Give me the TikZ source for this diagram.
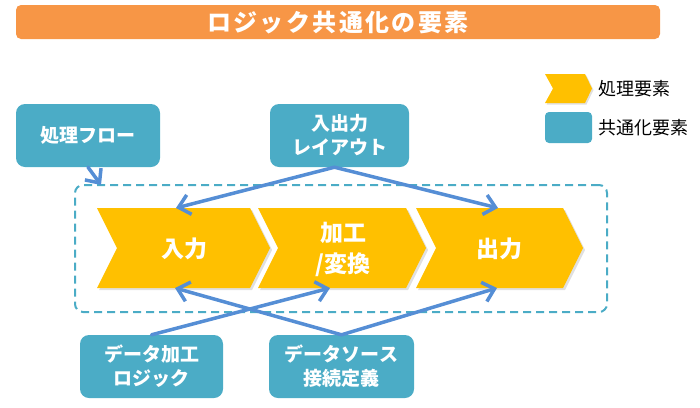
\documentclass[tikz,border=0pt]{standalone}
\usepackage{fontspec}
\setmainfont{Noto Sans CJK JP}
\newfontfamily\titlefont{Noto Sans CJK JP}[LetterSpace=10]
\usetikzlibrary{arrows.meta}
\definecolor{orangebar}{HTML}{F79646}
\definecolor{gold}{HTML}{FFC000}
\definecolor{tealbox}{HTML}{4BACC6}
\definecolor{arrowblue}{HTML}{558ED5}
\begin{document}
\begin{tikzpicture}[x=1pt,y=-1pt,
  cbox/.style={fill=tealbox, rounded corners=9pt, text=white,
    font=\fontsize{19}{24}\selectfont\bfseries, align=center, inner sep=0pt},
  conn/.style={draw=arrowblue, line width=3.5pt, line cap=round,
    -{Straight Barb[length=11pt,width=20pt,line width=3.5pt]}},
  chevshadow/.style={fill=black, opacity=0.12},
  chevfill/.style={fill=gold},
  chevtext/.style={text=white, font=\fontsize{23}{31}\selectfont\bfseries, align=center, inner sep=0pt},
  legtext/.style={text=black, font=\fontsize{18}{20}\selectfont, anchor=west, inner sep=0pt}
]
\useasboundingbox (0,0) rectangle (700,407);

% title
\node[fill=orangebar, rounded corners=5pt, minimum width=644pt, minimum height=34pt,
  text=white, font=\titlefont\fontsize{24}{26}\selectfont\bfseries, inner sep=0pt] (title) at (338,22) {ロジック共通化の要素};

% legend
\fill[chevshadow] (546.5,75.5) -- (586.5,75.5) -- (593.5,90) -- (586.5,104.5) -- (546.5,104.5) -- (554.5,90) -- cycle;
\fill[chevfill] (545,74) -- (585,74) -- (592,88.5) -- (585,103) -- (545,103) -- (553,88.5) -- cycle;
\node[legtext] (legA) at (598,88.5) {処理要素};
\node[fill=tealbox, rounded corners=4pt, minimum width=47pt, minimum height=31pt, inner sep=0pt] (legbox) at (568.5,127.5) {};
\node[legtext] (legB) at (598,127.5) {共通化要素};

% common element boxes
\node[cbox, minimum width=144pt, minimum height=63pt] (flow) at (88,135.5) {処理フロー};
\node[cbox, minimum width=139pt, minimum height=63pt] (iol) at (339.5,135.5) {入出力\\レイアウト};
\node[cbox, minimum width=143pt, minimum height=63pt] (dlogic) at (151.5,366.5) {データ加工\\ロジック};
\node[cbox, minimum width=145pt, minimum height=63pt] (dsrc) at (341.5,366.5) {データソース\\接続定義};

% dashed group
\node[draw=tealbox, line width=2pt, dash pattern=on 8pt off 5pt, rounded corners=8pt,
  minimum width=532pt, minimum height=127pt, inner sep=0pt] (group) at (341,248.5) {};

% chevrons
\fill[chevshadow] (99,210) -- (252,210) -- (272,250) -- (252,290) -- (99,290) -- (119,250) -- cycle;
\fill[chevshadow] (260,210) -- (408,210) -- (428,250) -- (408,290) -- (260,290) -- (280,250) -- cycle;
\fill[chevshadow] (418,210) -- (565,210) -- (585,250) -- (565,290) -- (418,290) -- (438,250) -- cycle;
\fill[chevfill] (97,208) -- (250,208) -- (270,248) -- (250,288) -- (97,288) -- (117,248) -- cycle;
\fill[chevfill] (258,208) -- (406,208) -- (426,248) -- (406,288) -- (258,288) -- (278,248) -- cycle;
\fill[chevfill] (416,208) -- (563,208) -- (583,248) -- (563,288) -- (416,288) -- (436,248) -- cycle;
\node[chevtext] (in) at (184,249) {入力};
\node[chevtext] (proc) at (343,249) {加工\\/変換};
\node[chevtext] (out) at (499,249) {出力};

% connector end points on the chevrons
\coordinate (inT) at (176,208);
\coordinate (outT) at (498,208);
\coordinate (inB) at (175,288);
\coordinate (procB) at (330,288);
\coordinate (outB) at (497,288);
\coordinate (groupC) at (101,185);

% connectors
\draw[conn] ([xshift=-5pt]iol.south) -- (inT);
\draw[conn] ([xshift=-5pt]iol.south) -- (outT);
\draw[conn] (flow.south) -- (groupC);
\draw[conn] (dlogic.north) -- (procB);
\draw[conn] (dsrc.north) -- (inB);
\draw[conn] (dsrc.north) -- (outB);
\end{tikzpicture}
\end{document}
